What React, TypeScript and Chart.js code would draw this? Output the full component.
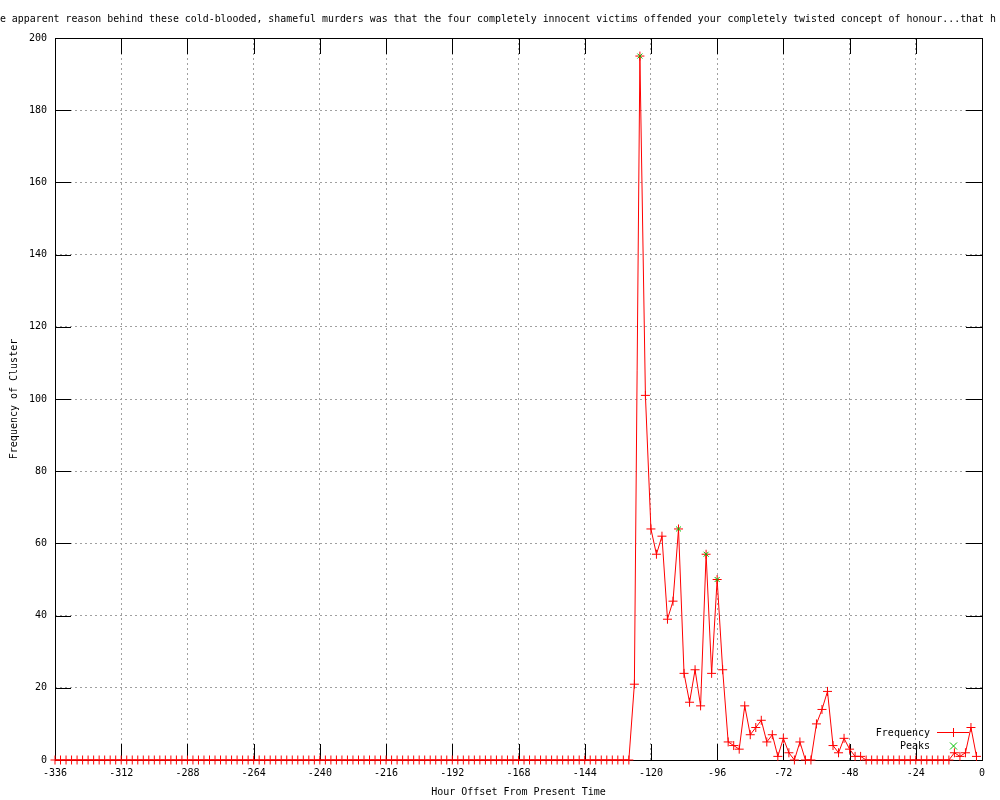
import React, { useEffect, useRef } from "react";
import { Chart, registerables } from "chart.js";

Chart.register(...registerables);

const TITLE =
  "The apparent reason behind these cold-blooded, shameful murders was that the four completely innocent victims offended your completely twisted concept of honour...that h";
const X_TITLE = "Hour Offset From Present Time";
const Y_TITLE = "Frequency of Cluster";

const xTicks = [-336, -312, -288, -264, -240, -216, -192, -168, -144, -120, -96, -72, -48, -24, 0];
const yTicks = [0, 20, 40, 60, 80, 100, 120, 140, 160, 180, 200];

// one sample every 2 hours, from -336 to -2
const hours: number[] = Array.from({ length: 168 }, (_, i) => -336 + 2 * i);

const frequency: number[] = [
  // -336 .. -128
  0, 0, 0, 0, 0, 0, 0, 0, 0, 0, 0, 0, 0, 0, 0, 0, 0, 0, 0, 0, 0,
  0, 0, 0, 0, 0, 0, 0, 0, 0, 0, 0, 0, 0, 0, 0, 0, 0, 0, 0, 0, 0,
  0, 0, 0, 0, 0, 0, 0, 0, 0, 0, 0, 0, 0, 0, 0, 0, 0, 0, 0, 0, 0,
  0, 0, 0, 0, 0, 0, 0, 0, 0, 0, 0, 0, 0, 0, 0, 0, 0, 0, 0, 0, 0,
  0, 0, 0, 0, 0, 0, 0, 0, 0, 0, 0, 0, 0, 0, 0, 0, 0, 0, 0, 0, 0,
  // -126 .. -42
  21, 195, 101, 64, 57, 62, 39, 44, 64, 24,
  16, 25, 15, 57, 24, 50, 25, 5, 4, 3,
  15, 7, 9, 11, 5, 7, 1, 6, 2, 0,
  5, 0, 0, 10, 14, 19, 4, 2, 6, 3,
  1, 1, 0,
  // -40 .. -12
  0, 0, 0, 0, 0, 0, 0, 0, 0, 0, 0, 0, 0, 0, 0,
  // -10 .. -2
  2, 1, 2, 9, 1,
];

const peakHours = [-124, -110, -100, -96];
const peakValues = [195, 64, 57, 50];

const RED = "#ff0000";
const GREEN = "#00c000";
const FONT = "DejaVu Sans Mono";

export default function App() {
  const ref = useRef<HTMLCanvasElement>(null);

  useEffect(() => {
    document.body.style.margin = "0";
    const canvas = ref.current!;

    const frame = {
      id: "gnuframe",
      beforeDatasetsDraw(chart: any) {
        const { ctx, chartArea: a, scales } = chart;
        ctx.save();
        ctx.strokeStyle = "#000";
        ctx.lineWidth = 1;
        ctx.beginPath();
        xTicks.forEach((v) => {
          const x = Math.round(scales.x.getPixelForValue(v)) + 0.5;
          ctx.moveTo(x, a.bottom);
          ctx.lineTo(x, a.bottom - 16);
          ctx.moveTo(x, a.top);
          ctx.lineTo(x, a.top + 16);
        });
        yTicks.forEach((v) => {
          const y = Math.round(scales.y.getPixelForValue(v)) + 0.5;
          ctx.moveTo(a.left, y);
          ctx.lineTo(a.left + 16, y);
          ctx.moveTo(a.right, y);
          ctx.lineTo(a.right - 16, y);
        });
        ctx.stroke();
        ctx.strokeRect(a.left + 0.5, a.top + 0.5, a.right - a.left, a.bottom - a.top);
        ctx.restore();
      },
      afterDraw(chart: any) {
        const { ctx, chartArea: a } = chart;
        ctx.save();
        ctx.fillStyle = "#000";
        // main title
        ctx.font = `9.92px "${FONT}"`;
        ctx.textAlign = "left";
        ctx.textBaseline = "middle";
        ctx.fillText(TITLE, -12, 19);
        ctx.font = `10px "${FONT}"`;
        // x title
        ctx.textAlign = "center";
        ctx.fillText(X_TITLE, (a.left + a.right) / 2, 792);
        // y title
        ctx.save();
        ctx.translate(14, (a.top + a.bottom) / 2);
        ctx.rotate(-Math.PI / 2);
        ctx.fillText(Y_TITLE, 0, 0);
        ctx.restore();
        // legend
        ctx.textAlign = "right";
        ctx.fillText("Frequency", 930, 733);
        ctx.fillText("Peaks", 930, 746);
        ctx.strokeStyle = RED;
        ctx.lineWidth = 1;
        ctx.beginPath();
        ctx.moveTo(937, 732.5);
        ctx.lineTo(969, 732.5);
        ctx.moveTo(953.5, 728);
        ctx.lineTo(953.5, 737);
        ctx.stroke();
        ctx.strokeStyle = GREEN;
        ctx.beginPath();
        ctx.moveTo(950, 742.5);
        ctx.lineTo(957, 749.5);
        ctx.moveTo(957, 742.5);
        ctx.lineTo(950, 749.5);
        ctx.stroke();
        ctx.restore();
      },
    };

    const chart = new Chart(canvas, {
      type: "scatter",
      data: {
        datasets: [
          {
            label: "Frequency",
            data: hours.map((h, i) => ({ x: h, y: frequency[i] })),
            showLine: true,
            borderColor: RED,
            borderWidth: 1,
            backgroundColor: RED,
            pointStyle: "cross",
            pointRadius: 4.5,
            pointBorderColor: RED,
            pointBorderWidth: 1,
            pointHoverRadius: 4.5,
            tension: 0,
            fill: false,
            clip: false,
            order: 1,
          } as any,
          {
            label: "Peaks",
            data: peakHours.map((h, i) => ({ x: h, y: peakValues[i] })),
            showLine: false,
            borderColor: GREEN,
            backgroundColor: GREEN,
            pointStyle: "crossRot",
            pointRadius: 3.5,
            pointBorderColor: GREEN,
            pointBorderWidth: 1,
            clip: false,
            order: 0,
          } as any,
        ],
      },
      options: {
        animation: false,
        responsive: false,
        devicePixelRatio: 1,
        events: [],
        layout: { padding: { left: 0, right: 18, top: 38, bottom: 0 } },
        plugins: {
          legend: { display: false },
          title: { display: false },
          tooltip: { enabled: false },
        },
        scales: {
          x: {
            type: "linear",
            min: -336,
            max: 0,
            afterBuildTicks: (s: any) => {
              s.ticks = xTicks.map((v) => ({ value: v }));
            },
            afterFit: (s: any) => {
              s.height = 40;
            },
            ticks: {
              autoSkip: false,
              maxRotation: 0,
              minRotation: 0,
              padding: 7,
              color: "#000",
              font: { family: FONT, size: 10 },
            },
            grid: { color: "#a0a0a0", drawTicks: false, tickLength: 0, lineWidth: 1 },
            border: { display: false, dash: [2, 3] },
          },
          y: {
            type: "linear",
            min: 0,
            max: 200,
            afterBuildTicks: (s: any) => {
              s.ticks = yTicks.map((v) => ({ value: v }));
            },
            afterFit: (s: any) => {
              s.width = 55;
            },
            ticks: {
              autoSkip: false,
              padding: 8,
              color: "#000",
              font: { family: FONT, size: 10 },
            },
            grid: { color: "#a0a0a0", drawTicks: false, tickLength: 0, lineWidth: 1 },
            border: { display: false, dash: [2, 3] },
          },
        },
      } as any,
      plugins: [frame],
    });

    return () => chart.destroy();
  }, []);

  return (
    <div style={{ width: 1000, height: 800, background: "#fff" }}>
      <canvas ref={ref} width={1000} height={800} style={{ display: "block" }} />
    </div>
  );
}
